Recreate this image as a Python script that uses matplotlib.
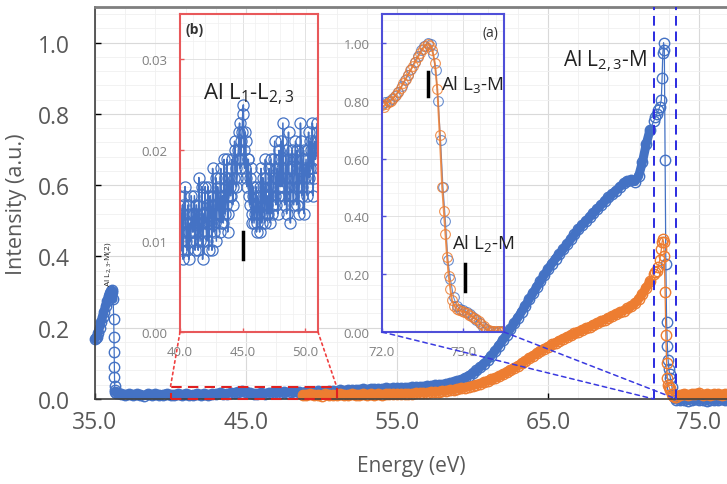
import numpy as np
import matplotlib
matplotlib.use("Agg")
import matplotlib.pyplot as plt
from matplotlib.ticker import MultipleLocator, AutoMinorLocator, FormatStrFormatter
from matplotlib.patches import Rectangle, ConnectionPatch

plt.rcParams['font.family'] = ['Open Sans', 'DejaVu Sans']
plt.rcParams['mathtext.fontset'] = 'custom'
plt.rcParams['mathtext.rm'] = 'Open Sans'
plt.rcParams['mathtext.default'] = 'regular'

BLUE = '#4472C4'
ORANGE = '#ED7D31'
GRAY = '#595959'

# ---- main spectrum, blue series ----
blue_head_E = [35.0, 35.05, 35.1, 35.2, 35.3, 35.4, 35.5, 35.6, 35.7, 35.8, 35.9, 36.0,
               36.05, 36.1, 36.15, 36.2, 36.24, 36.26, 36.27, 36.28, 36.29, 36.3, 36.32,
               36.35, 36.4]
blue_head_I = [0.168, 0.17, 0.175, 0.185, 0.20, 0.215, 0.23, 0.245, 0.26, 0.275, 0.29, 0.298,
               0.303, 0.305, 0.30, 0.28, 0.224, 0.173, 0.131, 0.09, 0.062, 0.036, 0.025,
               0.02, 0.018]
blue_flat_E = np.arange(36.5, 55.01, 0.25)
blue_flat_I = [0.016, 0.013, 0.011, 0.014, 0.010, 0.013, 0.012, 0.009, 0.014, 0.011, 0.013, 0.010,
               0.012, 0.015, 0.011, 0.012,
               0.013, 0.010, 0.014, 0.012, 0.011, 0.015, 0.012, 0.013, 0.010, 0.014, 0.013, 0.016,
               0.014, 0.015, 0.017, 0.016,
               0.019, 0.022, 0.020, 0.016, 0.013, 0.014, 0.016, 0.015, 0.017, 0.016, 0.018, 0.017,
               0.019, 0.018, 0.020, 0.017,
               0.019, 0.018, 0.020, 0.021, 0.019, 0.022, 0.020, 0.021, 0.023, 0.022, 0.021, 0.024,
               0.023, 0.025, 0.024, 0.026,
               0.025, 0.027, 0.026, 0.028, 0.027, 0.029, 0.028, 0.030, 0.029, 0.031, 0.032]
blue_rise_E = np.arange(55.25, 71.76, 0.25)
blue_rise_I = [0.031, 0.032, 0.032, 0.033, 0.034, 0.034, 0.035, 0.036, 0.037, 0.038, 0.039, 0.040,
               0.042, 0.044, 0.047, 0.050, 0.054, 0.059, 0.065, 0.072, 0.080, 0.089, 0.099, 0.110,
               0.122, 0.135, 0.150, 0.165, 0.180, 0.196, 0.212, 0.228, 0.245, 0.262, 0.280, 0.297,
               0.314, 0.331, 0.348, 0.364, 0.380, 0.394, 0.407, 0.420, 0.434, 0.448, 0.462, 0.476,
               0.488, 0.499, 0.510, 0.522, 0.533, 0.544, 0.555, 0.566, 0.575, 0.585, 0.595, 0.605,
               0.612, 0.614, 0.610, 0.625, 0.665, 0.715, 0.755]
peak_E = [72.0, 72.1, 72.2, 72.3, 72.4, 72.5, 72.55, 72.6, 72.65, 72.7, 72.75, 72.8, 72.85,
          72.9, 72.95, 73.0, 73.05, 73.1, 73.2, 73.3, 73.4, 73.5]
blue_peak_I = [0.78, 0.79, 0.80, 0.81, 0.82, 0.84, 0.90, 0.97, 1.00, 0.98, 0.67, 0.38, 0.215,
               0.15, 0.11, 0.084, 0.07, 0.06, 0.035, 0.01, 0.002, -0.002]
tail_E = np.arange(73.75, 77.01, 0.25)
blue_tail_I = [-0.004, -0.002, -0.005, -0.003, -0.001, -0.004, -0.002, -0.005, -0.003, -0.002,
               -0.004, -0.001, -0.003, -0.002]

# ---- main spectrum, orange series ----
orange_flat_E = np.arange(48.75, 55.01, 0.25)
orange_flat_I = [0.012, 0.010, 0.013, 0.011, 0.012, 0.009, 0.013, 0.011, 0.012, 0.010, 0.013, 0.012,
                 0.011, 0.013, 0.012, 0.011, 0.013, 0.012, 0.014, 0.012, 0.013, 0.012, 0.014, 0.013,
                 0.014, 0.013]
orange_rise_I = [0.014, 0.014, 0.015, 0.015, 0.016, 0.017, 0.017, 0.018, 0.019, 0.020, 0.021, 0.022,
                 0.023, 0.025, 0.026, 0.028, 0.030, 0.032, 0.034, 0.037, 0.040, 0.043, 0.047, 0.051,
                 0.055, 0.059, 0.064, 0.069, 0.075, 0.081, 0.087, 0.093, 0.100, 0.107, 0.114, 0.121,
                 0.128, 0.135, 0.141, 0.147, 0.153, 0.158, 0.164, 0.169, 0.174, 0.179, 0.184, 0.189,
                 0.193, 0.198, 0.203, 0.208, 0.213, 0.218, 0.223, 0.228, 0.233, 0.238, 0.243, 0.248,
                 0.254, 0.260, 0.268, 0.280, 0.295, 0.312, 0.330]
orange_peak_I = [0.35, 0.355, 0.36, 0.37, 0.39, 0.42, 0.44, 0.45, 0.44, 0.40, 0.30, 0.18, 0.10,
                 0.06, 0.04, 0.035, 0.03, 0.025, 0.015, 0.008, 0.006, 0.006]
orange_tail_I = [0.012, 0.015, 0.011, 0.014, 0.013, 0.016, 0.012, 0.014, 0.011, 0.015, 0.013,
                 0.012, 0.014, 0.013]

# ---- inset (b): 40-51 eV, blue ----
inb_E1 = np.arange(40.0, 51.01, 0.1)
inb_I1 = [0.012, 0.009, 0.014, 0.011, 0.016, 0.010, 0.013, 0.008, 0.012, 0.015, 0.011,
          0.013, 0.009, 0.014, 0.012, 0.017, 0.010, 0.012, 0.008, 0.013, 0.016,
          0.011, 0.014, 0.009, 0.015, 0.012, 0.018, 0.011, 0.014, 0.010, 0.016,
          0.013, 0.017, 0.012, 0.015, 0.019, 0.013, 0.016, 0.011, 0.017, 0.015,
          0.018, 0.014, 0.017, 0.020, 0.016, 0.019, 0.022, 0.018, 0.021, 0.024,
          0.020, 0.022, 0.017, 0.019, 0.015, 0.017, 0.013, 0.016, 0.012, 0.014,
          0.011, 0.015, 0.013, 0.016, 0.012, 0.017, 0.014, 0.019, 0.013, 0.015,
          0.018, 0.012, 0.016, 0.014, 0.019, 0.015, 0.017, 0.013, 0.020, 0.016,
          0.018, 0.023, 0.015, 0.017, 0.013, 0.019, 0.016, 0.012, 0.018, 0.015,
          0.017, 0.021, 0.014, 0.018, 0.016, 0.023, 0.015, 0.019, 0.013, 0.018,
          0.016, 0.020, 0.017, 0.021, 0.018, 0.015, 0.020, 0.019, 0.022, 0.021]
inb_E2 = np.arange(40.05, 50.96, 0.1)
inb_I2 = [0.010, 0.013, 0.008, 0.015, 0.012, 0.009, 0.014, 0.011, 0.010, 0.013,
          0.011, 0.015, 0.010, 0.013, 0.009, 0.014, 0.011, 0.016, 0.010, 0.012,
          0.013, 0.010, 0.016, 0.012, 0.014, 0.009, 0.015, 0.012, 0.017, 0.013,
          0.015, 0.011, 0.018, 0.014, 0.012, 0.017, 0.014, 0.019, 0.013, 0.016,
          0.015, 0.019, 0.016, 0.021, 0.018, 0.017, 0.020, 0.023, 0.019, 0.022,
          0.025, 0.018, 0.021, 0.016, 0.019, 0.014, 0.018, 0.012, 0.015, 0.013,
          0.016, 0.012, 0.014, 0.011, 0.018, 0.013, 0.016, 0.012, 0.017, 0.014,
          0.013, 0.016, 0.019, 0.013, 0.017, 0.021, 0.014, 0.018, 0.015, 0.019,
          0.021, 0.016, 0.019, 0.014, 0.020, 0.017, 0.022, 0.015, 0.017, 0.020,
          0.014, 0.019, 0.016, 0.020, 0.013, 0.018, 0.021, 0.016, 0.020, 0.017,
          0.019, 0.015, 0.022, 0.018, 0.020, 0.023, 0.017, 0.021, 0.020, 0.023]

# ---- inset (a): 72-73.5 eV, normalised ----
ina_blue_E = [72.00, 72.04, 72.08, 72.12, 72.16, 72.20, 72.24, 72.28, 72.32, 72.36, 72.40, 72.44,
              72.48, 72.52, 72.56, 72.60, 72.63, 72.66, 72.69, 72.72, 72.75, 72.78, 72.81, 72.84,
              72.88, 72.92, 72.96, 73.00, 73.04, 73.08, 73.12, 73.16, 73.20, 73.24, 73.28, 73.32,
              73.36, 73.40, 73.44, 73.48]
ina_blue_I = [0.790, 0.795, 0.800, 0.805, 0.815, 0.830, 0.850, 0.870, 0.890, 0.910, 0.935, 0.955,
              0.975, 0.990, 1.000, 0.995, 0.960, 0.905, 0.800, 0.665, 0.500, 0.385, 0.250, 0.185,
              0.120, 0.090, 0.080, 0.075, 0.070, 0.062, 0.052, 0.042, 0.030, 0.018, 0.009, 0.004,
              0.002, 0.001, 0.003, 0.002]
ina_orange_E = [72.00, 72.02, 72.05, 72.08, 72.11, 72.14, 72.17, 72.20, 72.23, 72.26, 72.29, 72.32,
                72.35, 72.38, 72.41, 72.44, 72.47, 72.50, 72.53, 72.56, 72.59, 72.62, 72.65, 72.68,
                72.71, 72.74, 72.76, 72.78, 72.80, 72.82, 72.84, 72.86, 72.89, 72.92, 72.95, 72.98,
                73.01, 73.04, 73.07, 73.10, 73.13, 73.16, 73.19, 73.22, 73.25, 73.28, 73.31, 73.34,
                73.37, 73.40, 73.43, 73.46, 73.49]
ina_orange_I = [0.785, 0.780, 0.790, 0.795, 0.800, 0.810, 0.820, 0.830, 0.845, 0.860, 0.875, 0.890,
                0.905, 0.920, 0.935, 0.950, 0.965, 0.980, 0.990, 0.995, 0.990, 0.975, 0.930, 0.840,
                0.680, 0.500, 0.420, 0.340, 0.260, 0.195, 0.150, 0.110, 0.090, 0.080, 0.075, 0.072,
                0.070, 0.066, 0.060, 0.055, 0.050, 0.045, 0.038, 0.028, 0.020, 0.012, 0.006, 0.003,
                0.004, 0.002, 0.003, 0.001, 0.003]

# edge markers (energy, low, high)
b_mark = (45.0, 0.008, 0.011)
a_marks = [(72.56, 0.815, 0.90), (73.02, 0.142, 0.236)]

blue_E = np.concatenate([blue_head_E, blue_flat_E, blue_rise_E, peak_E, tail_E])
blue_I = np.concatenate([blue_head_I, blue_flat_I, blue_rise_I, blue_peak_I, blue_tail_I])
orange_E = np.concatenate([orange_flat_E, blue_rise_E, peak_E, tail_E])
orange_I = np.concatenate([orange_flat_I, orange_rise_I, orange_peak_I, orange_tail_I])

inb_E = np.concatenate([inb_E1, inb_E2])
inb_I = np.concatenate([inb_I1, inb_I2])
order = np.argsort(inb_E)
inb_E, inb_I = inb_E[order], inb_I[order]

W, H = 727, 485


def px_box(x0, y0, x1, y1):
    return [x0 / W, (H - y1) / H, (x1 - x0) / W, (y1 - y0) / H]


def dense_only(E, I):
    # the measured points are so close there that they merge into a band
    E = np.asarray(E)
    keep = (E <= 36.2) | ((E >= 36.35) & (E < 72.0)) | (E > 73.5)
    return E, np.where(keep, I, np.nan)


fig = plt.figure(figsize=(W / 100, H / 100), dpi=100)
ax = fig.add_axes(px_box(95, 8, 727, 400))

for E, I, col in ((blue_E, blue_I, BLUE), (orange_E, orange_I, ORANGE)):
    bE, bI = dense_only(E, I)
    ax.plot(bE, bI, color=col, lw=6.5, solid_capstyle='round', clip_on=False)
    ax.plot(E, I, color=col, marker='o', mfc='none', ms=7.5, mew=1.0, lw=0.9, clip_on=False)

ax.set_xlim(35, 76.85)
ax.set_ylim(0, 1.1)
ax.xaxis.set_major_locator(MultipleLocator(10, offset=5))
ax.xaxis.set_minor_locator(AutoMinorLocator(5))
ax.yaxis.set_major_locator(MultipleLocator(0.2))
ax.yaxis.set_minor_locator(AutoMinorLocator(5))
ax.xaxis.set_major_formatter(FormatStrFormatter('%.1f'))
ax.yaxis.set_major_formatter(FormatStrFormatter('%.1f'))
ax.grid(which='major', color='#D9D9D9', lw=0.8)
ax.grid(which='minor', color='#F0F0F0', lw=0.6)
ax.set_axisbelow(True)
ax.tick_params(which='major', direction='in', length=4, width=1, labelsize=16.5,
               labelcolor=GRAY)
ax.tick_params(axis='x', pad=8)
ax.tick_params(axis='y', pad=18)
ax.tick_params(which='minor', length=0)
ax.spines['right'].set_visible(False)
ax.spines['top'].set_color('#7F7F7F')
ax.spines['top'].set_linewidth(2)
for s in ('left', 'bottom'):
    ax.spines[s].set_color('#404040')
    ax.spines[s].set_linewidth(1.2)
ax.set_xlabel('Energy (eV)', fontsize=15, color=GRAY, labelpad=15)
ax.set_ylabel('Intensity (a.u.)', fontsize=15.5, color=GRAY, labelpad=8)

ax.text(68.8, 0.95, r'Al L$_{2,3}$-M', fontsize=15, ha='center', va='center', color='#222222')
ax.text(35.85, 0.38, r'Al L$_{2,3}$-M(2)', fontsize=6, rotation=90, ha='center',
        va='center', color='#222222')

# ---- inset (b) ----
axb = fig.add_axes(px_box(180, 15, 318, 333))
axb.plot(inb_E, inb_I, color=BLUE, marker='o', mfc='none', ms=8, mew=0.9, lw=1.1)
axb.set_xlim(40, 51)
axb.set_ylim(0, 0.035)
axb.xaxis.set_major_locator(MultipleLocator(5))
axb.xaxis.set_minor_locator(AutoMinorLocator(5))
axb.yaxis.set_major_locator(MultipleLocator(0.01))
axb.yaxis.set_minor_locator(AutoMinorLocator(5))
axb.xaxis.set_major_formatter(FormatStrFormatter('%.1f'))
axb.yaxis.set_major_formatter(FormatStrFormatter('%.2f'))
axb.text(0.04, 0.975, '(b)', transform=axb.transAxes, fontsize=10, fontweight='bold',
         ha='left', va='top', color='#333333')
axb.text(0.5, 0.75, r'Al L$_1$-L$_{2,3}$', transform=axb.transAxes, fontsize=16,
         ha='center', va='center', color='#222222')
axb.plot([b_mark[0], b_mark[0]], [b_mark[1], b_mark[2]], color='k', lw=2.5)

# ---- inset (a) ----
axa = fig.add_axes(px_box(382, 15, 504, 333))
axa.plot(ina_blue_E, ina_blue_I, color=BLUE, marker='o', mfc='none', ms=7, mew=0.8, lw=0.8,
         alpha=0.8)
axa.plot(ina_orange_E, ina_orange_I, color=ORANGE, marker='o', mfc='none', ms=7, mew=0.8,
         lw=1.4, alpha=0.85)
axa.set_xlim(72, 73.5)
axa.set_ylim(0, 1.1)
axa.xaxis.set_major_locator(MultipleLocator(1))
axa.xaxis.set_minor_locator(AutoMinorLocator(5))
axa.yaxis.set_major_locator(MultipleLocator(0.2))
axa.yaxis.set_minor_locator(AutoMinorLocator(5))
axa.xaxis.set_major_formatter(FormatStrFormatter('%.1f'))
axa.yaxis.set_major_formatter(FormatStrFormatter('%.2f'))
axa.text(0.885, 0.965, '(a)', transform=axa.transAxes, fontsize=10, ha='center', va='top',
         color='#333333')
axa.text(72.72, 0.86, r'Al L$_3$-M', fontsize=13.5, ha='left', va='center', color='#222222',
         clip_on=False)
axa.text(72.86, 0.31, r'Al L$_2$-M', fontsize=13.5, ha='left', va='center', color='#222222',
         clip_on=False)
for e, lo, hi in a_marks:
    axa.plot([e, e], [lo, hi], color='k', lw=2.5)

for a, col in ((axb, '#E8585A'), (axa, '#4F4FD8')):
    a.set_facecolor('white')
    a.grid(which='major', color='#DDDDDD', lw=0.6)
    a.grid(which='minor', color='#F0F0F0', lw=0.5)
    a.set_axisbelow(True)
    a.tick_params(which='major', direction='in', length=3, width=1, color=col, labelsize=9.5,
                  labelcolor='#808080', pad=9)
    a.tick_params(which='minor', length=0)
    for s in a.spines.values():
        s.set_color(col)
        s.set_linewidth(1.5)

# ---- zoom indicators ----
bx0, bx1 = axb.get_xlim()
by1 = axb.get_ylim()[1]
ax.add_patch(Rectangle((bx0, 0), bx1 - bx0, by1, fill=False, ec='#E02020', lw=1.5,
                       ls=(0, (5, 3)), clip_on=False, zorder=5))
for fx, ex in ((0, bx0), (1, bx1)):
    fig.add_artist(ConnectionPatch(xyA=(fx, 0), coordsA=axb.transAxes, xyB=(ex, by1),
                                   coordsB=ax.transData, color='#F04040', lw=1.2,
                                   ls=(0, (1.5, 2))))

ax0, ax1 = axa.get_xlim()
for ex in (ax0, ax1):
    ax.plot([ex, ex], ax.get_ylim(), color='#2B2BE0', lw=1.4, ls=(0, (5, 3)), zorder=5,
            clip_on=False)
for fx, ex in ((0, ax0), (1, ax1)):
    fig.add_artist(ConnectionPatch(xyA=(fx, 0), coordsA=axa.transAxes, xyB=(ex, 0),
                                   coordsB=ax.transData, color='#3A3AE0', lw=1.1,
                                   ls=(0, (3, 2.5))))

fig.savefig('out.png', dpi=100)
